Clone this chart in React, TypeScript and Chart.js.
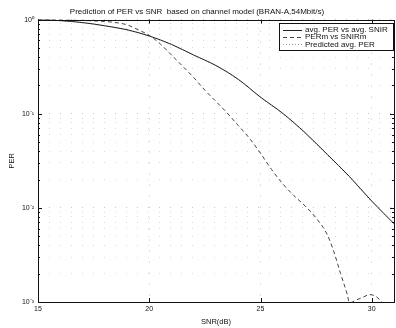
import React, { useEffect, useRef } from "react";
import { Chart, registerables } from "chart.js";
Chart.register(...registerables);

const titleText = "Prediction of PER vs SNR  based on channel model (BRAN-A,54Mbit/s)";
const xTitle = "SNR(dB)";
const yTitle = "PER";
const xTickValues = [15, 20, 25, 30];
const seriesNames = ["avg. PER vs avg. SNIR", "PERm vs SNIRm", "Predicted avg. PER"];

const avgSnr = [15, 16, 17, 18, 19, 20, 21, 22, 23, 24, 25, 26, 27, 28, 29, 30, 31];
const avgPer = [1.0, 0.975, 0.93, 0.86, 0.78, 0.67, 0.545, 0.42, 0.325, 0.232, 0.15, 0.101, 0.063, 0.037, 0.0215, 0.0118, 0.0068];

const mSnr = [15, 16, 17, 18, 18.5, 19, 19.5, 20, 20.5, 21, 21.5, 22, 22.5, 23, 23.5, 24, 24.5, 25, 25.5, 26, 26.5, 27, 27.5, 28, 28.3, 28.6, 28.9, 29.0, 29.3, 29.6, 29.9, 30.2, 30.5];
const mPer = [1.0, 0.995, 0.98, 0.955, 0.93, 0.88, 0.78, 0.68, 0.55, 0.42, 0.32, 0.242, 0.178, 0.135, 0.102, 0.075, 0.055, 0.038, 0.0255, 0.018, 0.0135, 0.0105, 0.0078, 0.0052, 0.0034, 0.002, 0.0012, 0.00098, 0.00105, 0.00112, 0.0012, 0.00114, 0.00098];

const predSnr = [15, 16, 17, 18, 19, 20, 21, 22, 23, 24, 25, 26, 27, 28, 29, 30, 31];
const predPer = [1.0, 0.972, 0.928, 0.858, 0.776, 0.668, 0.542, 0.418, 0.322, 0.23, 0.149, 0.1, 0.062, 0.0365, 0.0212, 0.0116, 0.0067];

const FONT = "'Liberation Sans', Arial, sans-serif";
const SUP: Record<string, string> = { "0": "\u2070", "1": "\u00b9", "2": "\u00b2", "3": "\u00b3", "-": "\u207b" };

const toPts = (xs: number[], ys: number[]) => xs.map((x, i) => ({ x, y: ys[i] }));

const framePlugin = {
  id: "frame",
  afterDatasetsDraw(chart: any) {
    const { ctx, chartArea: a, scales } = chart;
    ctx.save();
    ctx.strokeStyle = "#111";
    ctx.lineWidth = 1;
    ctx.strokeRect(Math.round(a.left) + 0.5, Math.round(a.top) + 0.5, Math.round(a.right - a.left), Math.round(a.bottom - a.top));
    ctx.beginPath();
    for (const v of xTickValues) {
      const px = Math.round(scales.x.getPixelForValue(v)) + 0.5;
      ctx.moveTo(px, a.bottom); ctx.lineTo(px, a.bottom - 4);
      ctx.moveTo(px, a.top); ctx.lineTo(px, a.top + 4);
    }
    for (let d = -3; d <= 0; d++) {
      for (let m = 1; m <= 9; m++) {
        const v = m * Math.pow(10, d);
        if (v > 1) break;
        const py = Math.round(scales.y.getPixelForValue(v)) + 0.5;
        const len = m === 1 ? 4 : 2;
        ctx.moveTo(a.left, py); ctx.lineTo(a.left + len, py);
        ctx.moveTo(a.right, py); ctx.lineTo(a.right - len, py);
      }
    }
    ctx.stroke();
    ctx.restore();
  },
};

const legendPlugin = {
  id: "boxLegend",
  afterDraw(chart: any) {
    const { ctx, chartArea: a } = chart;
    const left = 279, right = a.right, top = 23, bottom = 50;
    ctx.save();
    ctx.fillStyle = "#fff";
    ctx.fillRect(left, top, right - left, bottom - top);
    ctx.strokeStyle = "#111";
    ctx.lineWidth = 1;
    ctx.strokeRect(left + 0.5, top + 0.5, right - left - 1, bottom - top);
    ctx.font = "8px " + FONT;
    ctx.textBaseline = "middle";
    chart.data.datasets.forEach((ds: any, i: number) => {
      const y = top + 7 + i * 7.2;
      ctx.strokeStyle = ds.borderColor;
      ctx.lineWidth = ds.borderWidth;
      ctx.setLineDash(ds.borderDash || []);
      ctx.beginPath();
      ctx.moveTo(283, Math.round(y) + 0.5);
      ctx.lineTo(302, Math.round(y) + 0.5);
      ctx.stroke();
      ctx.setLineDash([]);
      ctx.fillStyle = "#111";
      ctx.fillText(ds.label, 305, y);
    });
    ctx.restore();
  },
};

export default function App() {
  const ref = useRef<HTMLCanvasElement>(null);
  useEffect(() => {
    const chart = new Chart(ref.current as HTMLCanvasElement, {
      type: "line",
      data: {
        datasets: [
          { label: seriesNames[0], data: toPts(avgSnr, avgPer), borderColor: "#222", borderWidth: 1, pointRadius: 0, cubicInterpolationMode: "monotone", order: 1 },
          { label: seriesNames[1], data: toPts(mSnr, mPer), borderColor: "#444", borderWidth: 1, borderDash: [4, 3], pointRadius: 0, cubicInterpolationMode: "monotone", order: 2 },
          { label: seriesNames[2], data: toPts(predSnr, predPer), borderColor: "#999", borderWidth: 1, borderDash: [1, 2], pointRadius: 0, cubicInterpolationMode: "monotone", order: 3 },
        ],
      },
      options: {
        animation: false,
        responsive: false,
        maintainAspectRatio: false,
        layout: { padding: { left: 0, right: 2, top: 0, bottom: 0 } },
        plugins: {
          legend: { display: false },
          tooltip: { enabled: false },
          title: {
            display: true,
            text: titleText,
            color: "#111",
            font: { family: FONT, size: 8, weight: "normal" },
            padding: { top: 7, bottom: 3 },
          },
        },
        scales: {
          x: {
            type: "linear",
            min: 15,
            max: 31,
            afterBuildTicks: (s: any) => { s.ticks = xTickValues.map((v) => ({ value: v })); },
            afterFit: (s: any) => { s.height = 26; },
            ticks: { color: "#111", font: { family: FONT, size: 7 }, padding: 3, maxRotation: 0, autoSkip: false },
            grid: { drawTicks: false, color: "#c4c4c4", lineWidth: 1 },
            border: { display: false, dash: [1, 10] },
            title: { display: true, text: xTitle, color: "#111", font: { family: FONT, size: 7.5 }, padding: { top: 0, bottom: 2 } },
          },
          y: {
            type: "logarithmic",
            min: 0.001,
            max: 1,
            afterBuildTicks: (s: any) => {
              const t: any[] = [];
              for (let d = -3; d <= 0; d++) {
                for (let m = 1; m <= 9; m++) {
                  const v = m * Math.pow(10, d);
                  if (v > 1.0001) break;
                  t.push({ value: v });
                }
              }
              s.ticks = t;
            },
            afterFit: (s: any) => { s.width = 38; },
            ticks: {
              color: "#111",
              font: { family: FONT, size: 7 },
              padding: 4,
              autoSkip: false,
              callback: (v: any) => {
                const e = Math.log10(Number(v));
                if (Math.abs(e - Math.round(e)) > 1e-6) return "";
                return "10" + String(Math.round(e)).split("").map((c) => SUP[c] || c).join("");
              },
            },
            grid: {
              drawTicks: false,
              color: (c: any) => {
                const e = Math.log10(c.tick ? c.tick.value : 1);
                return Math.abs(e - Math.round(e)) < 1e-6 ? "#c4c4c4" : "#dadada";
              },
              lineWidth: 1,
            },
            border: { display: false, dash: [1, 10] },
            title: { display: true, text: yTitle, color: "#111", font: { family: FONT, size: 7.5 }, padding: { top: 7, bottom: 0 } },
          },
        },
      },
      plugins: [framePlugin, legendPlugin],
    } as any);
    return () => chart.destroy();
  }, []);
  return (
    <div style={{ position: "fixed", left: 0, top: 0, width: 396, height: 328, background: "#fff" }}>
      <canvas ref={ref} width={396} height={328} style={{ width: 396, height: 328 }} />
    </div>
  );
}
